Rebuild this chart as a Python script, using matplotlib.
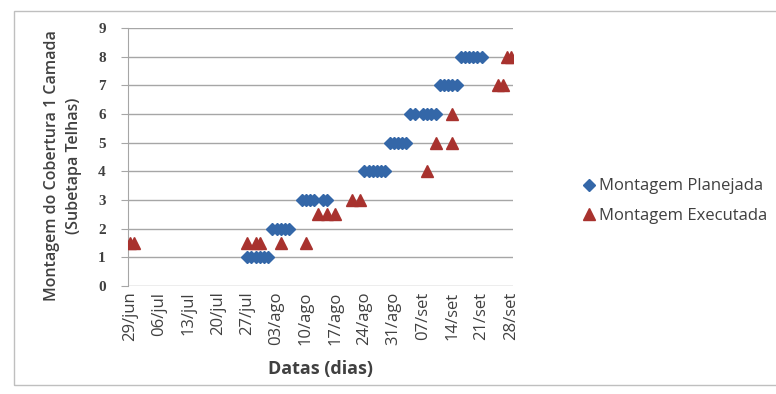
import matplotlib.pyplot as plt
from matplotlib.patches import Rectangle

# rótulos do eixo x (a cada 7 dias a partir de 29/jun)
datas = ['29/jun', '06/jul', '13/jul', '20/jul', '27/jul', '03/ago', '10/ago',
         '17/ago', '24/ago', '31/ago', '07/set', '14/set', '21/set', '28/set']

# dias contados a partir de 29/jun
planejada_dia = [28, 29, 30, 31, 32, 33,
                 34, 35, 36, 37, 38,
                 41, 42, 43, 44, 46, 47,
                 56, 57, 58, 59, 60, 61,
                 62, 63, 64, 65, 66,
                 67, 68, 70, 71, 72, 73,
                 74, 75, 76, 77, 78,
                 79, 80, 81, 82, 83, 84]
planejada_val = [1] * 6 + [2] * 5 + [3] * 6 + [4] * 6 + [5] * 5 + [6] * 6 + [7] * 5 + [8] * 6

executada_dia = [0, 1, 28, 30, 31, 36, 42,
                 45, 47, 49,
                 53, 55,
                 71,
                 73, 77,
                 77,
                 88, 89,
                 90, 91]
executada_val = [1.5] * 7 + [2.5] * 3 + [3] * 2 + [4] + [5] * 2 + [6] + [7] * 2 + [8] * 2

azul = '#3467a8'
vermelho = '#a8322e'
cinza_txt = '#404040'

fig = plt.figure(figsize=(7.76, 3.94), dpi=100)
ax = fig.add_axes([128 / 776, 1 - 286 / 394, (513 - 128) / 776, (286 - 28) / 394])

ax.plot(planejada_dia, planejada_val, linestyle='none', marker='D', markersize=6.5,
        color=azul, markeredgecolor=azul, label='Montagem Planejada', zorder=3)
ax.plot(executada_dia, executada_val, linestyle='none', marker='^', markersize=9,
        color=vermelho, markeredgecolor=vermelho, label='Montagem Executada', zorder=3)

ax.set_xlim(-0.5, 91.5)
ax.set_ylim(0, 9)
ax.set_yticks(range(10))
ax.set_xticks(range(0, 92, 7))
ax.set_xticklabels(datas, rotation=90, fontsize=12, color=cinza_txt, family='Open Sans')
for t in ax.get_yticklabels():
    t.set_family('Liberation Serif')
    t.set_fontsize(11)
    t.set_fontweight('bold')
    t.set_color(cinza_txt)

ax.grid(axis='y', color='#a6a6a6', linewidth=1)
ax.set_axisbelow(True)
for lado in ['top', 'right', 'bottom']:
    ax.spines[lado].set_visible(False)
ax.spines['left'].set_color('#a6a6a6')
ax.tick_params(axis='y', length=5, color='#a6a6a6', pad=11)
ax.tick_params(axis='x', length=0, pad=4)

fig.text(63 / 776, 1 - 166 / 394, 'Montagem do Cobertura 1 Camada\n(Subetapa Telhas)',
         rotation=90, ha='center', va='center', multialignment='center',
         fontsize=11.5, fontweight='semibold', color=cinza_txt, family='Open Sans',
         linespacing=1.45)
fig.text(320 / 776, 1 - 369 / 394, 'Datas (dias)', ha='center', va='center',
         fontsize=13, fontweight='bold', color=cinza_txt, family='Open Sans')

leg = fig.legend(loc='center left', bbox_to_anchor=(569 / 776, 1 - 201 / 394),
                 frameon=False, handlelength=0.6, handletextpad=0.3,
                 labelspacing=0.8, markerscale=0.9,
                 prop={'family': 'Open Sans', 'size': 12})
for t in leg.get_texts():
    t.set_color(cinza_txt)

# moldura do gráfico
fig.patches.append(Rectangle((14 / 776, 1 - 385 / 394), 1.0, (385 - 11) / 394,
                             transform=fig.transFigure, fill=False,
                             edgecolor='#bfbfbf', linewidth=1))

plt.savefig('out.png', dpi=100)
